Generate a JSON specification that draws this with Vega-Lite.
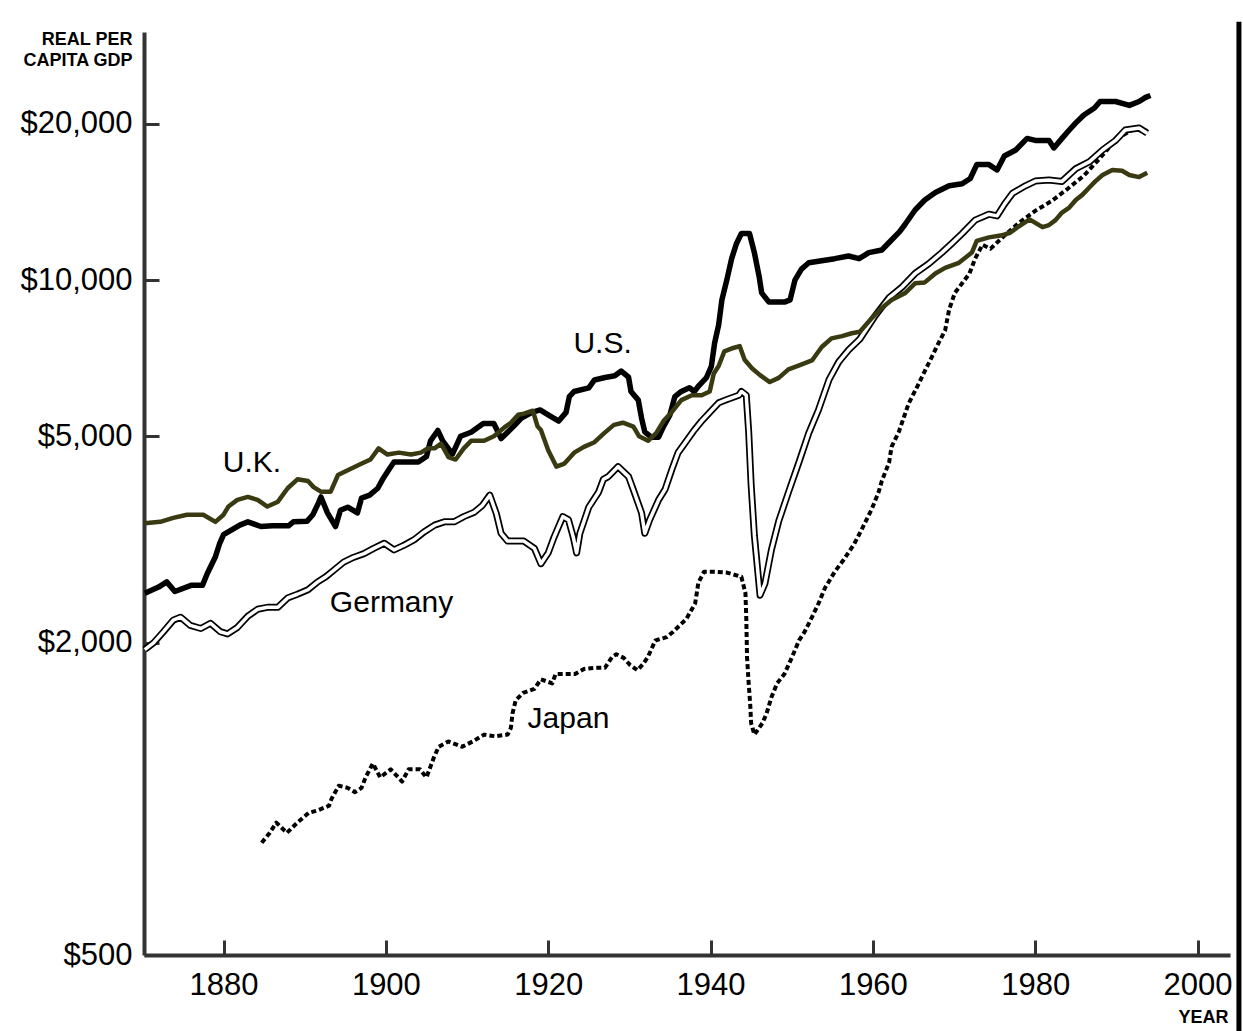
{
  "$schema": "https://vega.github.io/schema/vega-lite/v6.json",
  "width": 1086,
  "height": 923,
  "autosize": {"type": "none"},
  "padding": {"left": 144, "top": 32, "right": 13, "bottom": 76},
  "background": "white",
  "config": {
    "view": {"stroke": null},
    "axis": {
      "grid": false,
      "domainColor": "#333333",
      "domainWidth": 4,
      "tickColor": "#333333",
      "tickWidth": 3,
      "labelFont": "Liberation Sans",
      "labelFontSize": 31,
      "labelColor": "#000000",
      "titleFont": "Liberation Sans",
      "titleColor": "#000000"
    }
  },
  "datasets": {
    "series": [
      {"country": "U.S.", "year": 1870.3, "gdp": 2490},
      {"country": "U.S.", "year": 1872, "gdp": 2560},
      {"country": "U.S.", "year": 1873, "gdp": 2620},
      {"country": "U.S.", "year": 1874, "gdp": 2510},
      {"country": "U.S.", "year": 1876, "gdp": 2580},
      {"country": "U.S.", "year": 1877.4, "gdp": 2580},
      {"country": "U.S.", "year": 1878, "gdp": 2720},
      {"country": "U.S.", "year": 1879, "gdp": 2930},
      {"country": "U.S.", "year": 1879.5, "gdp": 3100},
      {"country": "U.S.", "year": 1880, "gdp": 3230},
      {"country": "U.S.", "year": 1881, "gdp": 3300},
      {"country": "U.S.", "year": 1882, "gdp": 3370},
      {"country": "U.S.", "year": 1883, "gdp": 3420},
      {"country": "U.S.", "year": 1884.6, "gdp": 3350},
      {"country": "U.S.", "year": 1886, "gdp": 3360},
      {"country": "U.S.", "year": 1888, "gdp": 3360},
      {"country": "U.S.", "year": 1888.6, "gdp": 3420},
      {"country": "U.S.", "year": 1890.3, "gdp": 3430},
      {"country": "U.S.", "year": 1891, "gdp": 3530},
      {"country": "U.S.", "year": 1891.7, "gdp": 3720},
      {"country": "U.S.", "year": 1892, "gdp": 3820},
      {"country": "U.S.", "year": 1892.8, "gdp": 3560},
      {"country": "U.S.", "year": 1893.8, "gdp": 3350},
      {"country": "U.S.", "year": 1894.4, "gdp": 3600},
      {"country": "U.S.", "year": 1895.3, "gdp": 3650},
      {"country": "U.S.", "year": 1896.5, "gdp": 3560},
      {"country": "U.S.", "year": 1897, "gdp": 3800},
      {"country": "U.S.", "year": 1898, "gdp": 3850},
      {"country": "U.S.", "year": 1899, "gdp": 3970},
      {"country": "U.S.", "year": 1899.6, "gdp": 4130},
      {"country": "U.S.", "year": 1900.4, "gdp": 4320},
      {"country": "U.S.", "year": 1901, "gdp": 4460},
      {"country": "U.S.", "year": 1902.2, "gdp": 4460},
      {"country": "U.S.", "year": 1904, "gdp": 4460},
      {"country": "U.S.", "year": 1905, "gdp": 4570},
      {"country": "U.S.", "year": 1905.5, "gdp": 4900},
      {"country": "U.S.", "year": 1906.4, "gdp": 5130},
      {"country": "U.S.", "year": 1907, "gdp": 4900},
      {"country": "U.S.", "year": 1908.2, "gdp": 4620},
      {"country": "U.S.", "year": 1909.2, "gdp": 5000},
      {"country": "U.S.", "year": 1910.5, "gdp": 5090},
      {"country": "U.S.", "year": 1912, "gdp": 5290},
      {"country": "U.S.", "year": 1913.3, "gdp": 5290},
      {"country": "U.S.", "year": 1914.2, "gdp": 4950},
      {"country": "U.S.", "year": 1915.7, "gdp": 5220},
      {"country": "U.S.", "year": 1916.7, "gdp": 5420},
      {"country": "U.S.", "year": 1918, "gdp": 5560},
      {"country": "U.S.", "year": 1919, "gdp": 5620},
      {"country": "U.S.", "year": 1920, "gdp": 5500},
      {"country": "U.S.", "year": 1921.3, "gdp": 5350},
      {"country": "U.S.", "year": 1922.2, "gdp": 5560},
      {"country": "U.S.", "year": 1922.6, "gdp": 5960},
      {"country": "U.S.", "year": 1923.2, "gdp": 6100},
      {"country": "U.S.", "year": 1925, "gdp": 6200},
      {"country": "U.S.", "year": 1925.7, "gdp": 6420},
      {"country": "U.S.", "year": 1927, "gdp": 6490},
      {"country": "U.S.", "year": 1928.2, "gdp": 6540},
      {"country": "U.S.", "year": 1929, "gdp": 6680},
      {"country": "U.S.", "year": 1929.9, "gdp": 6500},
      {"country": "U.S.", "year": 1930.2, "gdp": 6100},
      {"country": "U.S.", "year": 1931.1, "gdp": 5870},
      {"country": "U.S.", "year": 1931.5, "gdp": 5420},
      {"country": "U.S.", "year": 1931.9, "gdp": 5100},
      {"country": "U.S.", "year": 1932.7, "gdp": 4980},
      {"country": "U.S.", "year": 1933.6, "gdp": 4980},
      {"country": "U.S.", "year": 1934.2, "gdp": 5220},
      {"country": "U.S.", "year": 1935, "gdp": 5500},
      {"country": "U.S.", "year": 1935.6, "gdp": 5960},
      {"country": "U.S.", "year": 1936.4, "gdp": 6100},
      {"country": "U.S.", "year": 1937.4, "gdp": 6200},
      {"country": "U.S.", "year": 1938, "gdp": 6100},
      {"country": "U.S.", "year": 1938.6, "gdp": 6270},
      {"country": "U.S.", "year": 1939.5, "gdp": 6490},
      {"country": "U.S.", "year": 1940.1, "gdp": 6820},
      {"country": "U.S.", "year": 1940.5, "gdp": 7560},
      {"country": "U.S.", "year": 1941, "gdp": 8200},
      {"country": "U.S.", "year": 1941.4, "gdp": 9160},
      {"country": "U.S.", "year": 1942, "gdp": 10000},
      {"country": "U.S.", "year": 1942.6, "gdp": 11000},
      {"country": "U.S.", "year": 1943.2, "gdp": 11770},
      {"country": "U.S.", "year": 1943.8, "gdp": 12300},
      {"country": "U.S.", "year": 1944.8, "gdp": 12300},
      {"country": "U.S.", "year": 1945.4, "gdp": 11300},
      {"country": "U.S.", "year": 1946, "gdp": 10140},
      {"country": "U.S.", "year": 1946.3, "gdp": 9450},
      {"country": "U.S.", "year": 1947.2, "gdp": 9070},
      {"country": "U.S.", "year": 1948, "gdp": 9070},
      {"country": "U.S.", "year": 1949.1, "gdp": 9070},
      {"country": "U.S.", "year": 1949.8, "gdp": 9160},
      {"country": "U.S.", "year": 1950.4, "gdp": 10000},
      {"country": "U.S.", "year": 1951.2, "gdp": 10500},
      {"country": "U.S.", "year": 1952.1, "gdp": 10800},
      {"country": "U.S.", "year": 1953.7, "gdp": 10900},
      {"country": "U.S.", "year": 1955.3, "gdp": 11000},
      {"country": "U.S.", "year": 1957, "gdp": 11130},
      {"country": "U.S.", "year": 1958.3, "gdp": 11000},
      {"country": "U.S.", "year": 1959.5, "gdp": 11300},
      {"country": "U.S.", "year": 1961.1, "gdp": 11430},
      {"country": "U.S.", "year": 1962.3, "gdp": 11950},
      {"country": "U.S.", "year": 1963.3, "gdp": 12400},
      {"country": "U.S.", "year": 1964, "gdp": 12830},
      {"country": "U.S.", "year": 1965.2, "gdp": 13650},
      {"country": "U.S.", "year": 1966.4, "gdp": 14270},
      {"country": "U.S.", "year": 1967.7, "gdp": 14750},
      {"country": "U.S.", "year": 1969.4, "gdp": 15200},
      {"country": "U.S.", "year": 1971, "gdp": 15340},
      {"country": "U.S.", "year": 1972, "gdp": 15700},
      {"country": "U.S.", "year": 1972.8, "gdp": 16700},
      {"country": "U.S.", "year": 1974.3, "gdp": 16700},
      {"country": "U.S.", "year": 1975.3, "gdp": 16310},
      {"country": "U.S.", "year": 1976.2, "gdp": 17350},
      {"country": "U.S.", "year": 1977.6, "gdp": 17820},
      {"country": "U.S.", "year": 1979, "gdp": 18760},
      {"country": "U.S.", "year": 1980, "gdp": 18590},
      {"country": "U.S.", "year": 1981.7, "gdp": 18590},
      {"country": "U.S.", "year": 1982.3, "gdp": 17980},
      {"country": "U.S.", "year": 1983.3, "gdp": 18760},
      {"country": "U.S.", "year": 1984.2, "gdp": 19470},
      {"country": "U.S.", "year": 1985, "gdp": 20100},
      {"country": "U.S.", "year": 1986, "gdp": 20820},
      {"country": "U.S.", "year": 1987.3, "gdp": 21470},
      {"country": "U.S.", "year": 1988, "gdp": 22100},
      {"country": "U.S.", "year": 1989.9, "gdp": 22100},
      {"country": "U.S.", "year": 1991.6, "gdp": 21720},
      {"country": "U.S.", "year": 1992.8, "gdp": 22100},
      {"country": "U.S.", "year": 1993.6, "gdp": 22510},
      {"country": "U.S.", "year": 1994.2, "gdp": 22700},

      {"country": "U.K.", "year": 1870.3, "gdp": 3400},
      {"country": "U.K.", "year": 1872.2, "gdp": 3420},
      {"country": "U.K.", "year": 1873.8, "gdp": 3480},
      {"country": "U.K.", "year": 1875.5, "gdp": 3530},
      {"country": "U.K.", "year": 1877.5, "gdp": 3530},
      {"country": "U.K.", "year": 1879, "gdp": 3420},
      {"country": "U.K.", "year": 1880, "gdp": 3530},
      {"country": "U.K.", "year": 1880.6, "gdp": 3660},
      {"country": "U.K.", "year": 1881.7, "gdp": 3770},
      {"country": "U.K.", "year": 1883, "gdp": 3820},
      {"country": "U.K.", "year": 1884.2, "gdp": 3770},
      {"country": "U.K.", "year": 1885.4, "gdp": 3660},
      {"country": "U.K.", "year": 1886.7, "gdp": 3740},
      {"country": "U.K.", "year": 1887.9, "gdp": 3970},
      {"country": "U.K.", "year": 1889.1, "gdp": 4130},
      {"country": "U.K.", "year": 1890.4, "gdp": 4100},
      {"country": "U.K.", "year": 1891.1, "gdp": 3990},
      {"country": "U.K.", "year": 1892, "gdp": 3910},
      {"country": "U.K.", "year": 1893.2, "gdp": 3910},
      {"country": "U.K.", "year": 1894.1, "gdp": 4210},
      {"country": "U.K.", "year": 1895.3, "gdp": 4300},
      {"country": "U.K.", "year": 1896.9, "gdp": 4420},
      {"country": "U.K.", "year": 1898.1, "gdp": 4510},
      {"country": "U.K.", "year": 1899.1, "gdp": 4740},
      {"country": "U.K.", "year": 1900.2, "gdp": 4610},
      {"country": "U.K.", "year": 1901.6, "gdp": 4650},
      {"country": "U.K.", "year": 1903.1, "gdp": 4610},
      {"country": "U.K.", "year": 1904.3, "gdp": 4650},
      {"country": "U.K.", "year": 1905.2, "gdp": 4740},
      {"country": "U.K.", "year": 1906, "gdp": 4740},
      {"country": "U.K.", "year": 1906.8, "gdp": 4840},
      {"country": "U.K.", "year": 1907.7, "gdp": 4560},
      {"country": "U.K.", "year": 1908.6, "gdp": 4510},
      {"country": "U.K.", "year": 1909.6, "gdp": 4740},
      {"country": "U.K.", "year": 1910.5, "gdp": 4900},
      {"country": "U.K.", "year": 1912.1, "gdp": 4900},
      {"country": "U.K.", "year": 1913.3, "gdp": 5000},
      {"country": "U.K.", "year": 1914.6, "gdp": 5200},
      {"country": "U.K.", "year": 1915.4, "gdp": 5310},
      {"country": "U.K.", "year": 1916.3, "gdp": 5500},
      {"country": "U.K.", "year": 1917, "gdp": 5530},
      {"country": "U.K.", "year": 1918.1, "gdp": 5600},
      {"country": "U.K.", "year": 1918.7, "gdp": 5220},
      {"country": "U.K.", "year": 1919.1, "gdp": 5140},
      {"country": "U.K.", "year": 1920, "gdp": 4700},
      {"country": "U.K.", "year": 1921, "gdp": 4370},
      {"country": "U.K.", "year": 1922, "gdp": 4430},
      {"country": "U.K.", "year": 1923.2, "gdp": 4650},
      {"country": "U.K.", "year": 1924.4, "gdp": 4770},
      {"country": "U.K.", "year": 1925.7, "gdp": 4870},
      {"country": "U.K.", "year": 1926.9, "gdp": 5070},
      {"country": "U.K.", "year": 1928.1, "gdp": 5260},
      {"country": "U.K.", "year": 1929.2, "gdp": 5310},
      {"country": "U.K.", "year": 1930.5, "gdp": 5220},
      {"country": "U.K.", "year": 1931.2, "gdp": 5000},
      {"country": "U.K.", "year": 1932.3, "gdp": 4900},
      {"country": "U.K.", "year": 1933.3, "gdp": 5070},
      {"country": "U.K.", "year": 1934.2, "gdp": 5350},
      {"country": "U.K.", "year": 1935.2, "gdp": 5560},
      {"country": "U.K.", "year": 1936.4, "gdp": 5870},
      {"country": "U.K.", "year": 1937.7, "gdp": 6000},
      {"country": "U.K.", "year": 1938.9, "gdp": 6000},
      {"country": "U.K.", "year": 1939.9, "gdp": 6100},
      {"country": "U.K.", "year": 1940.4, "gdp": 6610},
      {"country": "U.K.", "year": 1941, "gdp": 6830},
      {"country": "U.K.", "year": 1941.7, "gdp": 7290},
      {"country": "U.K.", "year": 1942.8, "gdp": 7400},
      {"country": "U.K.", "year": 1943.6, "gdp": 7460},
      {"country": "U.K.", "year": 1944.2, "gdp": 7020},
      {"country": "U.K.", "year": 1945.1, "gdp": 6760},
      {"country": "U.K.", "year": 1946.1, "gdp": 6560},
      {"country": "U.K.", "year": 1947.3, "gdp": 6360},
      {"country": "U.K.", "year": 1948.4, "gdp": 6480},
      {"country": "U.K.", "year": 1949.6, "gdp": 6730},
      {"country": "U.K.", "year": 1951, "gdp": 6860},
      {"country": "U.K.", "year": 1952.5, "gdp": 7000},
      {"country": "U.K.", "year": 1953.7, "gdp": 7430},
      {"country": "U.K.", "year": 1954.9, "gdp": 7720},
      {"country": "U.K.", "year": 1956.2, "gdp": 7800},
      {"country": "U.K.", "year": 1957.4, "gdp": 7900},
      {"country": "U.K.", "year": 1958.4, "gdp": 7950},
      {"country": "U.K.", "year": 1959.9, "gdp": 8460},
      {"country": "U.K.", "year": 1961.1, "gdp": 8840},
      {"country": "U.K.", "year": 1962.3, "gdp": 9160},
      {"country": "U.K.", "year": 1964, "gdp": 9450},
      {"country": "U.K.", "year": 1965.2, "gdp": 9860},
      {"country": "U.K.", "year": 1966.4, "gdp": 9900},
      {"country": "U.K.", "year": 1967.7, "gdp": 10300},
      {"country": "U.K.", "year": 1968.9, "gdp": 10560},
      {"country": "U.K.", "year": 1970.6, "gdp": 10800},
      {"country": "U.K.", "year": 1972.2, "gdp": 11300},
      {"country": "U.K.", "year": 1972.8, "gdp": 11900},
      {"country": "U.K.", "year": 1974.3, "gdp": 12090},
      {"country": "U.K.", "year": 1975.9, "gdp": 12200},
      {"country": "U.K.", "year": 1976.9, "gdp": 12340},
      {"country": "U.K.", "year": 1978, "gdp": 12700},
      {"country": "U.K.", "year": 1979.3, "gdp": 13100},
      {"country": "U.K.", "year": 1980.9, "gdp": 12650},
      {"country": "U.K.", "year": 1981.7, "gdp": 12770},
      {"country": "U.K.", "year": 1982.5, "gdp": 13050},
      {"country": "U.K.", "year": 1983.3, "gdp": 13500},
      {"country": "U.K.", "year": 1984.2, "gdp": 13800},
      {"country": "U.K.", "year": 1985, "gdp": 14270},
      {"country": "U.K.", "year": 1985.8, "gdp": 14600},
      {"country": "U.K.", "year": 1986.7, "gdp": 15100},
      {"country": "U.K.", "year": 1987.4, "gdp": 15500},
      {"country": "U.K.", "year": 1988.3, "gdp": 15950},
      {"country": "U.K.", "year": 1989.5, "gdp": 16310},
      {"country": "U.K.", "year": 1990.7, "gdp": 16250},
      {"country": "U.K.", "year": 1991.6, "gdp": 15950},
      {"country": "U.K.", "year": 1992.8, "gdp": 15800},
      {"country": "U.K.", "year": 1993.8, "gdp": 16100},

      {"country": "Germany", "year": 1870.3, "gdp": 1940},
      {"country": "Germany", "year": 1871.4, "gdp": 2000},
      {"country": "Germany", "year": 1872.6, "gdp": 2100},
      {"country": "Germany", "year": 1873.8, "gdp": 2210},
      {"country": "Germany", "year": 1874.7, "gdp": 2240},
      {"country": "Germany", "year": 1875.9, "gdp": 2160},
      {"country": "Germany", "year": 1877.2, "gdp": 2130},
      {"country": "Germany", "year": 1878.4, "gdp": 2180},
      {"country": "Germany", "year": 1879.6, "gdp": 2100},
      {"country": "Germany", "year": 1880.5, "gdp": 2080},
      {"country": "Germany", "year": 1881.7, "gdp": 2140},
      {"country": "Germany", "year": 1883, "gdp": 2250},
      {"country": "Germany", "year": 1884.2, "gdp": 2320},
      {"country": "Germany", "year": 1885.4, "gdp": 2340},
      {"country": "Germany", "year": 1886.7, "gdp": 2340},
      {"country": "Germany", "year": 1887.9, "gdp": 2440},
      {"country": "Germany", "year": 1889.1, "gdp": 2480},
      {"country": "Germany", "year": 1890.4, "gdp": 2530},
      {"country": "Germany", "year": 1891.6, "gdp": 2620},
      {"country": "Germany", "year": 1892.6, "gdp": 2680},
      {"country": "Germany", "year": 1893.6, "gdp": 2760},
      {"country": "Germany", "year": 1894.8, "gdp": 2860},
      {"country": "Germany", "year": 1896, "gdp": 2920},
      {"country": "Germany", "year": 1897.3, "gdp": 2970},
      {"country": "Germany", "year": 1898.5, "gdp": 3040},
      {"country": "Germany", "year": 1899.8, "gdp": 3110},
      {"country": "Germany", "year": 1901, "gdp": 3020},
      {"country": "Germany", "year": 1902.2, "gdp": 3080},
      {"country": "Germany", "year": 1903.5, "gdp": 3160},
      {"country": "Germany", "year": 1904.7, "gdp": 3270},
      {"country": "Germany", "year": 1906, "gdp": 3370},
      {"country": "Germany", "year": 1907.2, "gdp": 3420},
      {"country": "Germany", "year": 1908.4, "gdp": 3420},
      {"country": "Germany", "year": 1909.6, "gdp": 3500},
      {"country": "Germany", "year": 1910.9, "gdp": 3570},
      {"country": "Germany", "year": 1911.9, "gdp": 3680},
      {"country": "Germany", "year": 1912.8, "gdp": 3850},
      {"country": "Germany", "year": 1913.6, "gdp": 3550},
      {"country": "Germany", "year": 1914.2, "gdp": 3250},
      {"country": "Germany", "year": 1915, "gdp": 3140},
      {"country": "Germany", "year": 1917, "gdp": 3140},
      {"country": "Germany", "year": 1918.3, "gdp": 3040},
      {"country": "Germany", "year": 1919.1, "gdp": 2840},
      {"country": "Germany", "year": 1920, "gdp": 2980},
      {"country": "Germany", "year": 1920.7, "gdp": 3190},
      {"country": "Germany", "year": 1921.8, "gdp": 3500},
      {"country": "Germany", "year": 1922.5, "gdp": 3450},
      {"country": "Germany", "year": 1923.1, "gdp": 3190},
      {"country": "Germany", "year": 1923.5, "gdp": 2980},
      {"country": "Germany", "year": 1923.9, "gdp": 3250},
      {"country": "Germany", "year": 1925, "gdp": 3650},
      {"country": "Germany", "year": 1926.2, "gdp": 3900},
      {"country": "Germany", "year": 1926.8, "gdp": 4130},
      {"country": "Germany", "year": 1927.4, "gdp": 4180},
      {"country": "Germany", "year": 1928.6, "gdp": 4370},
      {"country": "Germany", "year": 1929.9, "gdp": 4180},
      {"country": "Germany", "year": 1930.6, "gdp": 3900},
      {"country": "Germany", "year": 1931.5, "gdp": 3560},
      {"country": "Germany", "year": 1931.9, "gdp": 3250},
      {"country": "Germany", "year": 1932.5, "gdp": 3450},
      {"country": "Germany", "year": 1933.6, "gdp": 3770},
      {"country": "Germany", "year": 1934.4, "gdp": 3950},
      {"country": "Germany", "year": 1935.2, "gdp": 4300},
      {"country": "Germany", "year": 1936, "gdp": 4650},
      {"country": "Germany", "year": 1936.8, "gdp": 4840},
      {"country": "Germany", "year": 1938, "gdp": 5140},
      {"country": "Germany", "year": 1938.9, "gdp": 5350},
      {"country": "Germany", "year": 1939.9, "gdp": 5560},
      {"country": "Germany", "year": 1941, "gdp": 5800},
      {"country": "Germany", "year": 1942.2, "gdp": 5900},
      {"country": "Germany", "year": 1943.5, "gdp": 6000},
      {"country": "Germany", "year": 1943.8, "gdp": 6100},
      {"country": "Germany", "year": 1944.4, "gdp": 6000},
      {"country": "Germany", "year": 1944.7, "gdp": 5100},
      {"country": "Germany", "year": 1945, "gdp": 4040},
      {"country": "Germany", "year": 1945.4, "gdp": 3220},
      {"country": "Germany", "year": 1946.1, "gdp": 2470},
      {"country": "Germany", "year": 1946.7, "gdp": 2600},
      {"country": "Germany", "year": 1947.5, "gdp": 3020},
      {"country": "Germany", "year": 1948.4, "gdp": 3430},
      {"country": "Germany", "year": 1949.6, "gdp": 3900},
      {"country": "Germany", "year": 1950.9, "gdp": 4460},
      {"country": "Germany", "year": 1952.1, "gdp": 5070},
      {"country": "Germany", "year": 1953.3, "gdp": 5620},
      {"country": "Germany", "year": 1954.6, "gdp": 6430},
      {"country": "Germany", "year": 1955.8, "gdp": 6960},
      {"country": "Germany", "year": 1957, "gdp": 7330},
      {"country": "Germany", "year": 1958.4, "gdp": 7700},
      {"country": "Germany", "year": 1960.2, "gdp": 8500},
      {"country": "Germany", "year": 1962, "gdp": 9250},
      {"country": "Germany", "year": 1963.6, "gdp": 9700},
      {"country": "Germany", "year": 1965.2, "gdp": 10300},
      {"country": "Germany", "year": 1966.9, "gdp": 10760},
      {"country": "Germany", "year": 1968.5, "gdp": 11300},
      {"country": "Germany", "year": 1969.8, "gdp": 11800},
      {"country": "Germany", "year": 1971, "gdp": 12300},
      {"country": "Germany", "year": 1972.6, "gdp": 13050},
      {"country": "Germany", "year": 1974.3, "gdp": 13400},
      {"country": "Germany", "year": 1975.3, "gdp": 13300},
      {"country": "Germany", "year": 1976.2, "gdp": 14000},
      {"country": "Germany", "year": 1977.2, "gdp": 14700},
      {"country": "Germany", "year": 1978.8, "gdp": 15200},
      {"country": "Germany", "year": 1980, "gdp": 15520},
      {"country": "Germany", "year": 1981.7, "gdp": 15600},
      {"country": "Germany", "year": 1983.3, "gdp": 15500},
      {"country": "Germany", "year": 1985, "gdp": 16400},
      {"country": "Germany", "year": 1986.7, "gdp": 16920},
      {"country": "Germany", "year": 1988.3, "gdp": 17820},
      {"country": "Germany", "year": 1989.9, "gdp": 18590},
      {"country": "Germany", "year": 1991.1, "gdp": 19470},
      {"country": "Germany", "year": 1992.8, "gdp": 19650},
      {"country": "Germany", "year": 1993.8, "gdp": 19200},

      {"country": "Japan", "year": 1884.7, "gdp": 823},
      {"country": "Japan", "year": 1885.7, "gdp": 860},
      {"country": "Japan", "year": 1886.5, "gdp": 900},
      {"country": "Japan", "year": 1887.8, "gdp": 860},
      {"country": "Japan", "year": 1889.1, "gdp": 900},
      {"country": "Japan", "year": 1890.5, "gdp": 940},
      {"country": "Japan", "year": 1891.6, "gdp": 950},
      {"country": "Japan", "year": 1893, "gdp": 970},
      {"country": "Japan", "year": 1893.3, "gdp": 1000},
      {"country": "Japan", "year": 1894.2, "gdp": 1060},
      {"country": "Japan", "year": 1895.3, "gdp": 1050},
      {"country": "Japan", "year": 1896.2, "gdp": 1030},
      {"country": "Japan", "year": 1897, "gdp": 1050},
      {"country": "Japan", "year": 1897.5, "gdp": 1100},
      {"country": "Japan", "year": 1898.4, "gdp": 1170},
      {"country": "Japan", "year": 1899.3, "gdp": 1100},
      {"country": "Japan", "year": 1900.6, "gdp": 1140},
      {"country": "Japan", "year": 1902, "gdp": 1080},
      {"country": "Japan", "year": 1902.8, "gdp": 1140},
      {"country": "Japan", "year": 1904.2, "gdp": 1140},
      {"country": "Japan", "year": 1905, "gdp": 1100},
      {"country": "Japan", "year": 1905.9, "gdp": 1200},
      {"country": "Japan", "year": 1906.5, "gdp": 1260},
      {"country": "Japan", "year": 1907.7, "gdp": 1290},
      {"country": "Japan", "year": 1909.4, "gdp": 1260},
      {"country": "Japan", "year": 1910.7, "gdp": 1290},
      {"country": "Japan", "year": 1912.1, "gdp": 1330},
      {"country": "Japan", "year": 1913.5, "gdp": 1320},
      {"country": "Japan", "year": 1915, "gdp": 1330},
      {"country": "Japan", "year": 1915.4, "gdp": 1370},
      {"country": "Japan", "year": 1915.6, "gdp": 1460},
      {"country": "Japan", "year": 1916, "gdp": 1550},
      {"country": "Japan", "year": 1916.9, "gdp": 1600},
      {"country": "Japan", "year": 1918.3, "gdp": 1630},
      {"country": "Japan", "year": 1919.1, "gdp": 1700},
      {"country": "Japan", "year": 1920.5, "gdp": 1670},
      {"country": "Japan", "year": 1920.9, "gdp": 1740},
      {"country": "Japan", "year": 1922.2, "gdp": 1740},
      {"country": "Japan", "year": 1923.3, "gdp": 1740},
      {"country": "Japan", "year": 1924.4, "gdp": 1780},
      {"country": "Japan", "year": 1925.8, "gdp": 1790},
      {"country": "Japan", "year": 1927, "gdp": 1790},
      {"country": "Japan", "year": 1927.9, "gdp": 1880},
      {"country": "Japan", "year": 1928.4, "gdp": 1900},
      {"country": "Japan", "year": 1929.3, "gdp": 1870},
      {"country": "Japan", "year": 1930.1, "gdp": 1810},
      {"country": "Japan", "year": 1931, "gdp": 1770},
      {"country": "Japan", "year": 1931.7, "gdp": 1820},
      {"country": "Japan", "year": 1932.3, "gdp": 1880},
      {"country": "Japan", "year": 1933.2, "gdp": 2020},
      {"country": "Japan", "year": 1934.6, "gdp": 2050},
      {"country": "Japan", "year": 1935.4, "gdp": 2100},
      {"country": "Japan", "year": 1936.2, "gdp": 2160},
      {"country": "Japan", "year": 1937, "gdp": 2220},
      {"country": "Japan", "year": 1937.7, "gdp": 2320},
      {"country": "Japan", "year": 1938.1, "gdp": 2380},
      {"country": "Japan", "year": 1938.3, "gdp": 2490},
      {"country": "Japan", "year": 1938.5, "gdp": 2610},
      {"country": "Japan", "year": 1939.2, "gdp": 2740},
      {"country": "Japan", "year": 1940.7, "gdp": 2740},
      {"country": "Japan", "year": 1942, "gdp": 2730},
      {"country": "Japan", "year": 1943.8, "gdp": 2680},
      {"country": "Japan", "year": 1944.3, "gdp": 2490},
      {"country": "Japan", "year": 1944.4, "gdp": 2240},
      {"country": "Japan", "year": 1944.5, "gdp": 1870},
      {"country": "Japan", "year": 1944.7, "gdp": 1670},
      {"country": "Japan", "year": 1944.9, "gdp": 1510},
      {"country": "Japan", "year": 1945.0, "gdp": 1400},
      {"country": "Japan", "year": 1945.4, "gdp": 1330},
      {"country": "Japan", "year": 1946.4, "gdp": 1400},
      {"country": "Japan", "year": 1946.9, "gdp": 1460},
      {"country": "Japan", "year": 1947.5, "gdp": 1570},
      {"country": "Japan", "year": 1948.2, "gdp": 1670},
      {"country": "Japan", "year": 1949.1, "gdp": 1740},
      {"country": "Japan", "year": 1950, "gdp": 1870},
      {"country": "Japan", "year": 1950.9, "gdp": 2020},
      {"country": "Japan", "year": 1951.6, "gdp": 2100},
      {"country": "Japan", "year": 1952.5, "gdp": 2240},
      {"country": "Japan", "year": 1953.3, "gdp": 2380},
      {"country": "Japan", "year": 1954.1, "gdp": 2550},
      {"country": "Japan", "year": 1955.3, "gdp": 2740},
      {"country": "Japan", "year": 1956.4, "gdp": 2890},
      {"country": "Japan", "year": 1957.7, "gdp": 3100},
      {"country": "Japan", "year": 1958.6, "gdp": 3300},
      {"country": "Japan", "year": 1959.9, "gdp": 3630},
      {"country": "Japan", "year": 1960.7, "gdp": 3900},
      {"country": "Japan", "year": 1961.1, "gdp": 4100},
      {"country": "Japan", "year": 1962, "gdp": 4450},
      {"country": "Japan", "year": 1962.3, "gdp": 4770},
      {"country": "Japan", "year": 1963.2, "gdp": 5100},
      {"country": "Japan", "year": 1964.4, "gdp": 5780},
      {"country": "Japan", "year": 1965.7, "gdp": 6340},
      {"country": "Japan", "year": 1966.4, "gdp": 6680},
      {"country": "Japan", "year": 1967.3, "gdp": 7130},
      {"country": "Japan", "year": 1968.1, "gdp": 7570},
      {"country": "Japan", "year": 1968.9, "gdp": 8000},
      {"country": "Japan", "year": 1969.4, "gdp": 8780},
      {"country": "Japan", "year": 1970.1, "gdp": 9450},
      {"country": "Japan", "year": 1971, "gdp": 9860},
      {"country": "Japan", "year": 1971.9, "gdp": 10300},
      {"country": "Japan", "year": 1972.6, "gdp": 11000},
      {"country": "Japan", "year": 1973.5, "gdp": 11700},
      {"country": "Japan", "year": 1974.5, "gdp": 11500},
      {"country": "Japan", "year": 1976, "gdp": 12100},
      {"country": "Japan", "year": 1978, "gdp": 12900},
      {"country": "Japan", "year": 1980, "gdp": 13600},
      {"country": "Japan", "year": 1982, "gdp": 14200},
      {"country": "Japan", "year": 1984, "gdp": 15000},
      {"country": "Japan", "year": 1986, "gdp": 15900},
      {"country": "Japan", "year": 1988, "gdp": 17200},
      {"country": "Japan", "year": 1990, "gdp": 18700},
      {"country": "Japan", "year": 1992, "gdp": 19500},
      {"country": "Japan", "year": 1993.8, "gdp": 19400}
    ],
    "labels": [
      {"label": "U.K.", "year": 1883.5, "gdp": 4450},
      {"label": "U.S.", "year": 1926.7, "gdp": 7530},
      {"label": "Germany", "year": 1900.7, "gdp": 2386},
      {"label": "Japan", "year": 1922.5, "gdp": 1426}
    ],
    "border": [
      {"year": 2005.1, "top": 31500, "bottom": 350}
    ]
  },
  "encoding": {
    "x": {
      "field": "year",
      "type": "quantitative",
      "scale": {"domain": [1870.2, 2004], "nice": false, "zero": false},
      "axis": {
        "values": [1880, 1900, 1920, 1940, 1960, 1980, 2000],
        "format": "d",
        "tickSize": -15,
        "labelPadding": 30,
        "labelFlush": false,
        "labelOverlap": false,
        "title": "YEAR",
        "titleFontSize": 18,
        "titleFontWeight": "bold",
        "titleAlign": "right",
        "titleAnchor": "end",
        "titleX": 1084,
        "titleY": 53,
        "titleBaseline": "top"
      }
    },
    "y": {
      "field": "gdp",
      "type": "quantitative",
      "scale": {"type": "log", "domain": [500, 30085], "nice": false, "zero": false},
      "axis": {
        "values": [500, 2000, 5000, 10000, 20000],
        "format": "$,d",
        "tickSize": -15,
        "labelPadding": 27,
        "labelOverlap": false,
        "title": ["REAL PER", "CAPITA GDP"],
        "titleAngle": 0,
        "titleAlign": "right",
        "titleAnchor": "start",
        "titleX": -12,
        "titleY": -2,
        "titleBaseline": "top",
        "titleFontSize": 18,
        "titleFontWeight": "bold",
        "titleLineHeight": 21
      }
    }
  },
  "layer": [
    {
      "data": {"name": "series"},
      "transform": [{"filter": "datum.country === 'Japan'"}],
      "mark": {"type": "line", "color": "#000000", "strokeWidth": 4, "strokeDash": [5, 3], "strokeJoin": "round"}
    },
    {
      "data": {"name": "series"},
      "transform": [{"filter": "datum.country === 'Germany'"}],
      "mark": {"type": "line", "color": "#000000", "strokeWidth": 7, "strokeJoin": "round"}
    },
    {
      "data": {"name": "series"},
      "transform": [{"filter": "datum.country === 'Germany'"}],
      "mark": {"type": "line", "color": "#ffffff", "strokeWidth": 3.5, "strokeJoin": "round"}
    },
    {
      "data": {"name": "series"},
      "transform": [{"filter": "datum.country === 'U.S.'"}],
      "mark": {"type": "line", "color": "#000000", "strokeWidth": 5.5, "strokeJoin": "round"}
    },
    {
      "data": {"name": "series"},
      "transform": [{"filter": "datum.country === 'U.K.'"}],
      "mark": {"type": "line", "color": "#3a3a12", "strokeWidth": 4.5, "strokeJoin": "round"}
    },
    {
      "data": {"name": "labels"},
      "mark": {"type": "text", "font": "Liberation Sans", "fontSize": 30, "align": "center", "baseline": "middle", "color": "#000000"},
      "encoding": {"text": {"field": "label", "type": "nominal"}}
    },
    {
      "data": {"name": "border"},
      "mark": {"type": "rule", "color": "#000000", "strokeWidth": 5, "clip": false},
      "encoding": {
        "x": {"field": "year", "type": "quantitative"},
        "y": {"field": "top", "type": "quantitative"},
        "y2": {"field": "bottom"}
      }
    }
  ]
}
